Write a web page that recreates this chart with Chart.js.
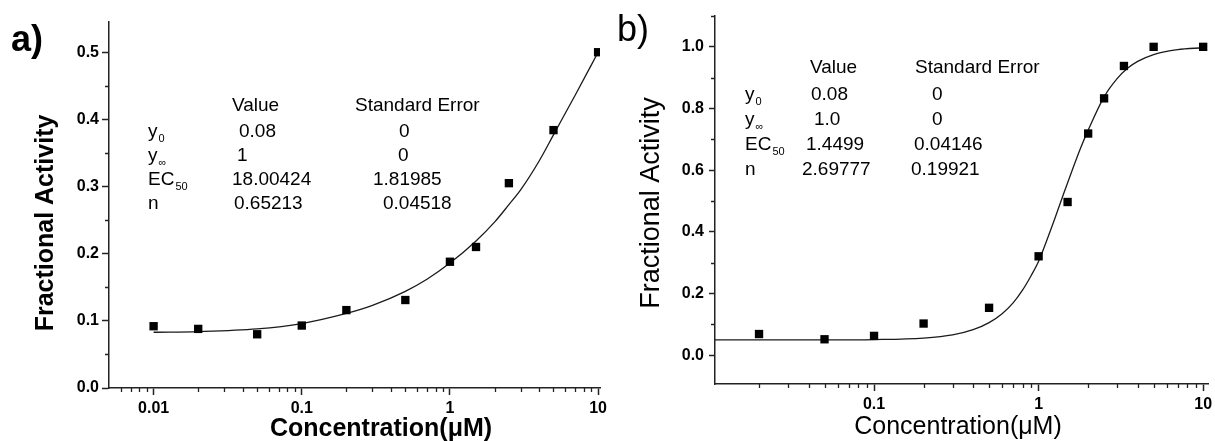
<!DOCTYPE html>
<html>
<head>
<meta charset="utf-8">
<script src="https://cdn.jsdelivr.net/npm/chart.js@4.4.1/dist/chart.umd.min.js"></script>
<style>
  html, body { margin: 0; padding: 0; background: #fff; }
  #wrap { position: relative; width: 1215px; height: 441px; }
  canvas { position: absolute; top: 0; }
  #chartA { left: 0; }
  #chartB { left: 607px; }
</style>
</head>
<body>
<div id="wrap">
  <canvas id="chartA" width="607" height="441"></canvas>
  <canvas id="chartB" width="608" height="441"></canvas>
</div>
<script>
// ---- panel a) data ----
const concA = [0.01, 0.02, 0.05, 0.1, 0.2, 0.5, 1, 1.5, 2.5, 5, 10];
const activityA = [0.092, 0.088, 0.080, 0.093, 0.116, 0.131, 0.188, 0.210, 0.305, 0.384, 0.500];
// fitted curve
const fitConcA = [0.01, 0.02, 0.05, 0.1, 0.2, 0.3, 0.5, 0.7, 1, 1.5, 2, 2.5, 3, 4, 5, 7, 10];
const fitA = [0.083, 0.084, 0.088, 0.096, 0.111, 0.123, 0.144, 0.162, 0.186, 0.219, 0.247, 0.273, 0.295, 0.338, 0.377, 0.436, 0.500];
const xTicksA = [0.01, 0.1, 1, 10];
const xMinorA = [0.006, 0.007, 0.008, 0.009, 0.02, 0.03, 0.04, 0.05, 0.06, 0.07, 0.08, 0.09,
                 0.2, 0.3, 0.4, 0.5, 0.6, 0.7, 0.8, 0.9, 2, 3, 4, 5, 6, 7, 8, 9];
const yTicksA = [0, 0.1, 0.2, 0.3, 0.4, 0.5];
const yMinorA = [0.05, 0.15, 0.25, 0.35, 0.45];
const paramA = [['y', '0'], ['y', '∞'], ['EC', '50'], ['n', '']];
const valueA = ['0.08', '1', '18.00424', '0.65213'];
const errorA = ['0', '0', '1.81985', '0.04518'];

// ---- panel b) data ----
const concB = [0.02, 0.05, 0.1, 0.2, 0.5, 1, 1.5, 2, 2.5, 3.3, 5, 10];
const activityB = [0.069, 0.052, 0.063, 0.103, 0.154, 0.321, 0.497, 0.719, 0.833, 0.938, 1.0, 1.0];
const fitConcB = [0.0108, 0.02, 0.05, 0.1, 0.2, 0.3, 0.4, 0.5, 0.6, 0.7, 0.8, 0.9, 1, 1.2, 1.4, 1.6, 1.8, 2, 2.5, 3, 3.5, 4, 5, 7, 10];
const fitB = [0.050, 0.050, 0.050, 0.051, 0.056, 0.066, 0.083, 0.106, 0.135, 0.170, 0.212, 0.258, 0.305, 0.415, 0.515, 0.600, 0.672, 0.730, 0.838, 0.897, 0.932, 0.953, 0.975, 0.991, 0.997];
const xTicksB = [0.1, 1, 10];
const xMinorB = [0.02, 0.03, 0.04, 0.05, 0.06, 0.07, 0.08, 0.09,
                 0.2, 0.3, 0.4, 0.5, 0.6, 0.7, 0.8, 0.9, 2, 3, 4, 5, 6, 7, 8, 9];
const yTicksB = [0, 0.2, 0.4, 0.6, 0.8, 1.0];
const yMinorB = [0.1, 0.3, 0.5, 0.7, 0.9, 1.1];
const paramB = [['y', '0'], ['y', '∞'], ['EC', '50'], ['n', '']];
const valueB = ['0.08', '1.0', '1.4499', '2.69777'];
const errorB = ['0', '0', '0.04146', '0.19921'];

const FONT = '"Liberation Sans", Arial, Helvetica, sans-serif';
const AXIS = '#222';

// short minor ticks, placed through the chart scales
const minorTicks = {
  id: 'minorTicks',
  afterDraw(chart, args, opts) {
    const { ctx, chartArea, scales } = chart;
    ctx.save();
    ctx.strokeStyle = AXIS;
    ctx.lineWidth = 1.3;
    ctx.beginPath();
    opts.x.forEach(v => {
      const px = Math.round(scales.x.getPixelForValue(v)) + 0.5;
      ctx.moveTo(px, chartArea.bottom);
      ctx.lineTo(px, chartArea.bottom + 4);
    });
    opts.y.forEach(v => {
      const py = Math.round(scales.y.getPixelForValue(v)) + 0.5;
      ctx.moveTo(chartArea.left, py);
      ctx.lineTo(chartArea.left - 4, py);
    });
    ctx.stroke();
    ctx.restore();
  }
};

// panel letter, axis titles and the fit table
const labels = {
  id: 'labels',
  afterDraw(chart, args, o) {
    const ctx = chart.ctx;
    ctx.save();
    ctx.fillStyle = '#000';
    ctx.textBaseline = 'alphabetic';
    ctx.textAlign = 'left';
    ctx.font = o.letterWeight + ' 36px ' + FONT;
    ctx.fillText(o.letter, o.letterX, o.letterY);

    // x title
    ctx.textAlign = 'center';
    ctx.font = o.titleWeight + ' 25px ' + FONT;
    ctx.fillText('Concentration(μM)', o.xTitleX, o.xTitleY);

    // y title
    ctx.save();
    ctx.translate(o.yTitleX, o.yTitleY);
    ctx.rotate(-Math.PI / 2);
    ctx.textBaseline = 'middle';
    ctx.font = o.titleWeight + ' ' + o.yTitleSize + 'px ' + FONT;
    ctx.fillText('Fractional Activity', 0, 0);
    ctx.restore();

    // table
    const t = o.table;
    ctx.textAlign = 'left';
    ctx.textBaseline = 'middle';
    ctx.font = '19px ' + FONT;
    ctx.fillText('Value', t.headX[0], t.headY);
    ctx.fillText('Standard Error', t.headX[1], t.headY);
    t.params.forEach((p, i) => {
      const y = t.rowY[i];
      ctx.font = '19px ' + FONT;
      ctx.fillText(p[0], t.labelX, y);
      const w = ctx.measureText(p[0]).width;
      ctx.fillText(t.values[i], t.valueX[i], y);
      ctx.fillText(t.errors[i], t.errorX[i], y);
      if (p[1]) {
        ctx.font = '11px ' + FONT;
        ctx.fillText(p[1], t.labelX + w + 1, y + 7);
      }
    });
    ctx.restore();
  }
};

function fixedFit(size, horizontal) {
  return function (scale) {
    if (horizontal) scale.height = size; else scale.width = size;
    scale.paddingLeft = 0; scale.paddingRight = 0;
    scale.paddingTop = 0; scale.paddingBottom = 0;
  };
}

function makeChart(id, p) {
  return new Chart(document.getElementById(id), {
    type: 'scatter',
    data: {
      datasets: [{
        data: p.conc.map((c, i) => ({ x: c, y: p.act[i] })),
        pointStyle: 'rect',
        pointRadius: 5.9,
        pointHoverRadius: 5.9,
        backgroundColor: '#000',
        borderColor: '#000',
        borderWidth: 0,
        showLine: false,
        order: 1
      }, {
        data: p.fitConc.map((c, i) => ({ x: c, y: p.fit[i] })),
        showLine: true,
        pointRadius: 0,
        borderColor: '#1a1a1a',
        borderWidth: 1.3,
        cubicInterpolationMode: 'monotone',
        order: 2
      }]
    },
    options: {
      responsive: false,
      animation: false,
      events: [],
      layout: { padding: { left: 0, top: p.top, right: p.right, bottom: 0 } },
      plugins: {
        legend: { display: false },
        tooltip: { enabled: false },
        minorTicks: { x: p.xMinor, y: p.yMinor },
        labels: p.labels
      },
      scales: {
        x: {
          type: 'logarithmic',
          position: 'bottom',
          min: p.xMin,
          max: p.xMax,
          afterBuildTicks: s => { s.ticks = p.xTicks.map(v => ({ value: v })); },
          afterFit: fixedFit(p.xAxisH, true),
          ticks: {
            autoSkip: false,
            maxRotation: 0,
            padding: 4,
            color: '#000',
            font: { family: FONT, size: 16, weight: 'bold' },
            callback: v => String(v)
          },
          grid: { drawOnChartArea: false, tickLength: 7, tickColor: AXIS, tickWidth: 1.5 },
          border: { display: true, color: AXIS, width: 1.5 }
        },
        y: {
          type: 'linear',
          position: 'left',
          min: p.yMin,
          max: p.yMax,
          afterBuildTicks: s => { s.ticks = p.yTicks.map(v => ({ value: v })); },
          afterFit: fixedFit(p.yAxisW, false),
          ticks: {
            padding: p.yPad,
            color: '#000',
            font: { family: FONT, size: 16, weight: 'bold' },
            callback: v => Number(v).toFixed(1)
          },
          grid: { drawOnChartArea: false, tickLength: p.yTick, tickColor: AXIS, tickWidth: 1.5 },
          border: { display: true, color: AXIS, width: 1.5 }
        }
      }
    },
    plugins: [minorTicks, labels]
  });
}

makeChart('chartA', {
  conc: concA, act: activityA, fitConc: fitConcA, fit: fitA,
  xTicks: xTicksA, xMinor: xMinorA, yTicks: yTicksA, yMinor: yMinorA,
  xMin: 0.005, xMax: 10.3, yMin: 0, yMax: 0.545,
  top: 22, right: 7, xAxisH: 53, yAxisW: 109, yTick: 7, yPad: 3,
  labels: {
    letter: 'a)', letterX: 11, letterY: 51, letterWeight: 'bold',
    titleWeight: 'bold', yTitleSize: 25,
    xTitleX: 381, xTitleY: 436,
    yTitleX: 46, yTitleY: 223,
    table: {
      params: paramA, values: valueA, errors: errorA,
      headX: [232, 355], headY: 106,
      labelX: 148, rowY: [132, 156, 180, 204],
      valueX: [239, 237, 232, 234],
      errorX: [399, 398, 373, 383]
    }
  }
});

makeChart('chartB', {
  conc: concB, act: activityB, fitConc: fitConcB, fit: fitB,
  xTicks: xTicksB, xMinor: xMinorB, yTicks: yTicksB, yMinor: yMinorB,
  xMin: 0.0108, xMax: 10.7, yMin: -0.093, yMax: 1.1,
  top: 16, right: 7, xAxisH: 57, yAxisW: 108, yTick: 6, yPad: 5,
  labels: {
    letter: 'b)', letterX: 10, letterY: 41, letterWeight: 'normal',
    titleWeight: 'normal', yTitleSize: 27,
    xTitleX: 351, xTitleY: 434,
    yTitleX: 45, yTitleY: 203,
    table: {
      params: paramB, values: valueB, errors: errorB,
      headX: [203, 308], headY: 68,
      labelX: 138, rowY: [95, 120, 145, 170],
      valueX: [204, 207, 199, 195],
      errorX: [325, 325, 307, 304]
    }
  }
});
</script>
</body>
</html>
